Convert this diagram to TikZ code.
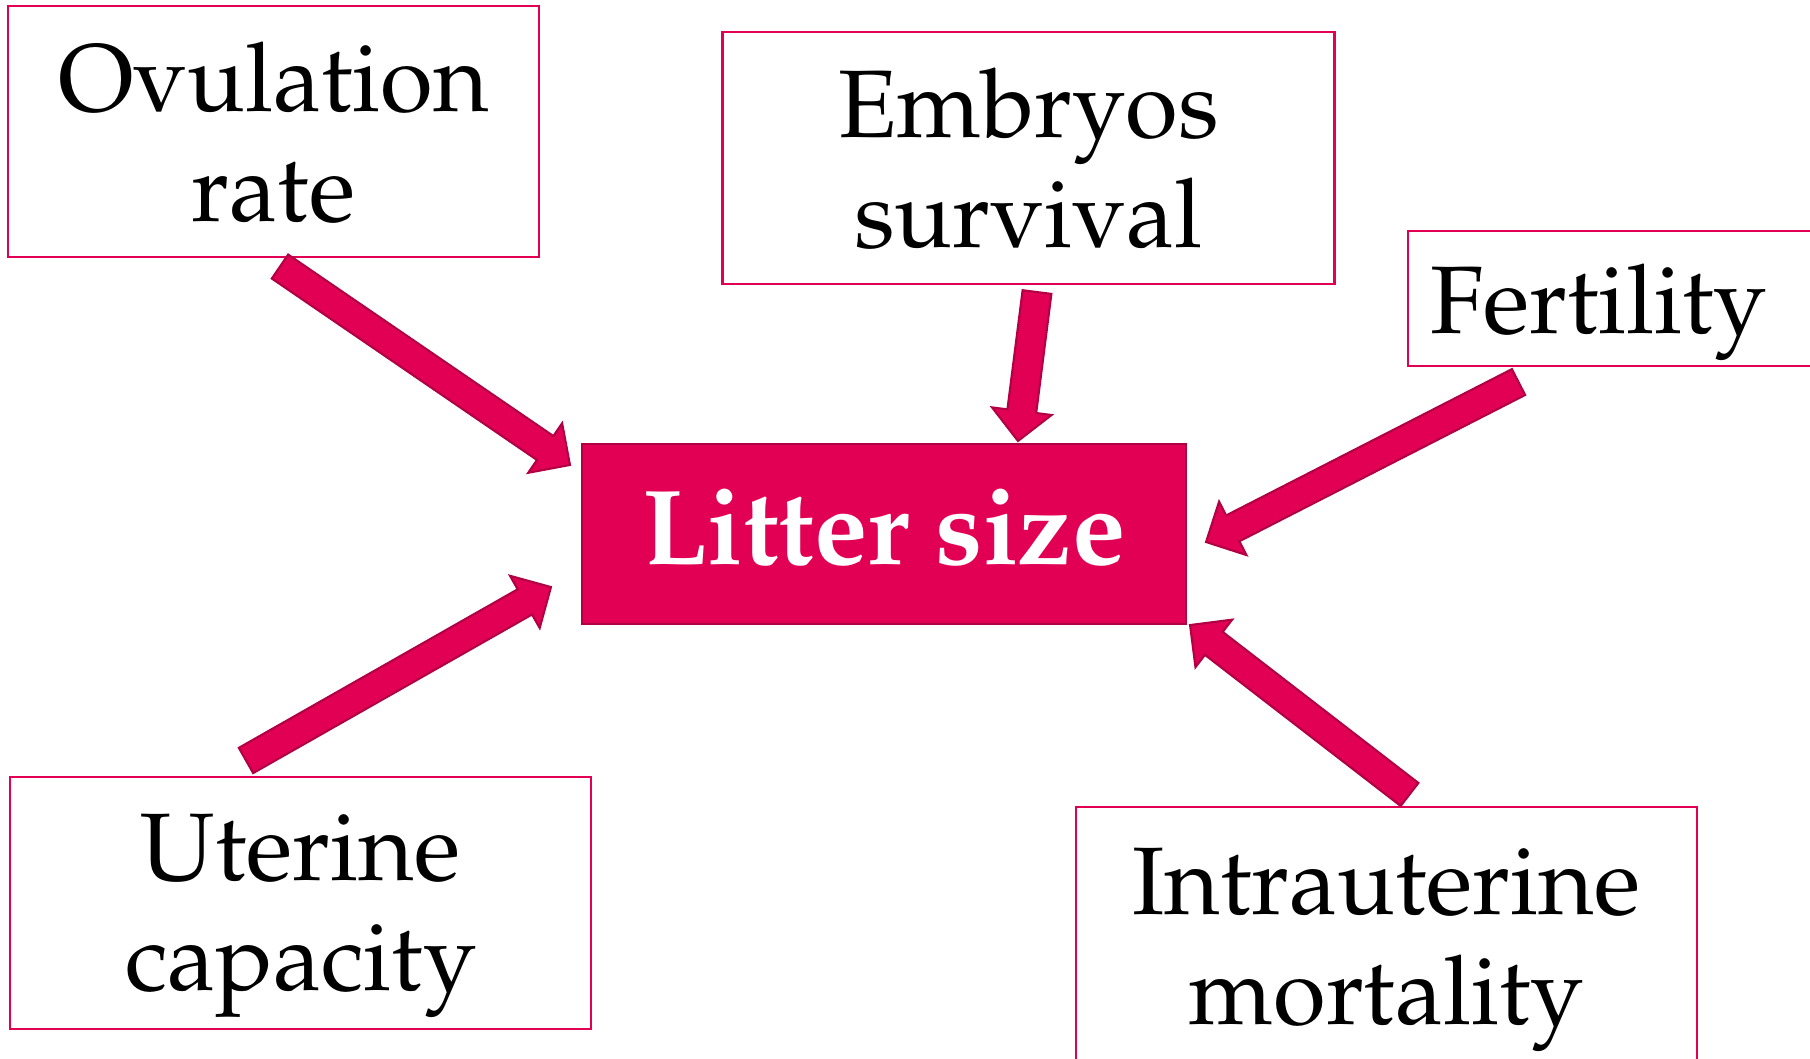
\documentclass[tikz,border=0pt]{standalone}
\usepackage[T1]{fontenc}
\usepackage{mathpazo}
\usetikzlibrary{calc}
\definecolor{litterred}{RGB}{226,0,84}
\definecolor{edgered}{RGB}{178,0,68}
\tikzset{
 factor/.style={draw=litterred, line width=0.6pt, align=center, inner sep=0pt, text depth=0pt, font=\fontsize{27.3}{31.3}\selectfont},
 target/.style={draw=edgered, fill=litterred, line width=0.6pt, text=white, inner sep=0pt, text depth=0.14cm, font=\fontsize{30.4}{35}\selectfont\bfseries},
 fatarrow/.style={draw=edgered, fill=litterred, line width=0.6pt, line join=miter}
}

\begin{document}
\begin{tikzpicture}
 \useasboundingbox (0,0) rectangle (18.1,10.58);
 % boxes
 \node[target, minimum width=6.04cm, minimum height=1.80cm] (litter) at (8.84,5.24) {Litter size};
 \node[factor, minimum width=5.31cm, minimum height=2.51cm] (ovul) at (2.735,9.265) {Ovulation\\rate};
 \node[factor, minimum width=6.12cm, minimum height=2.52cm] (embryo) at (10.285,9.0) {Embryos\\survival};
 \node[factor, anchor=west, minimum height=1.35cm, text width=4cm, align=left, inner xsep=0.22cm] (fert) at (14.07,7.595) {Fertility};
 \node[factor, minimum width=5.81cm, minimum height=2.52cm] (uter) at (3.007,1.553) {Uterine\\capacity};
 \node[factor, minimum width=6.21cm, minimum height=2.58cm] (intra) at (13.863,1.22) {Intrauterine\\mortality};

 % arrow ends
 \coordinate (t0) at ([shift={(0.065,-0.085)}]ovul.south);
 \coordinate (h0) at ([shift={(-0.11,-0.22)}]litter.north west);
 \coordinate (t1) at ([shift={(0.085,-0.07)}]embryo.south);
 \coordinate (h1) at ([shift={(1.34,0.02)}]litter.north);
 \coordinate (t2) at ([shift={(1.115,-0.15)}]fert.south west);
 \coordinate (h2) at ([shift={(0.19,-0.08)}]litter.east);
 \coordinate (t3) at ([shift={(-0.547,0.152)}]uter.north);
 \coordinate (h3) at ([shift={(-0.30,0.38)}]litter.south west);
 \coordinate (t4) at ([shift={(0.232,0.115)}]intra.north);
 \coordinate (h4) at ([shift={(0.03,0)}]litter.south east);

 % block arrows
 \foreach \tl/\hd in {t0/h0,t1/h1,t2/h2,t3/h3,t4/h4} {
  \coordinate (n) at ($(\hd)!0.30cm!(\tl)$);
  \draw[fatarrow] ($(\tl)!0.145cm!90:(\hd)$) -- ($(n)!0.145cm!-90:(\tl)$) -- ($(n)!0.30cm!-90:(\tl)$)
   -- (\hd) -- ($(n)!0.30cm!90:(\tl)$) -- ($(n)!0.145cm!90:(\tl)$) -- ($(\tl)!0.145cm!-90:(\hd)$) -- cycle;
 };
\end{tikzpicture}
\end{document}
